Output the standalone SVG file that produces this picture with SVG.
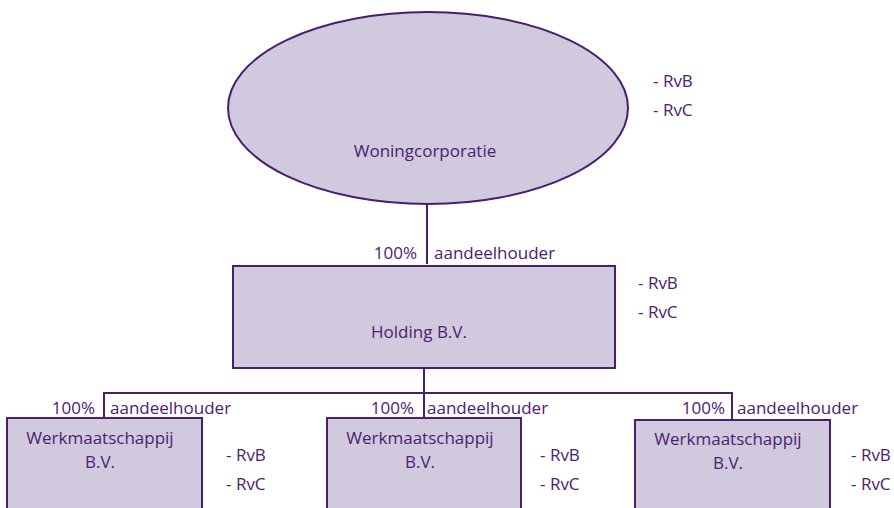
<svg xmlns="http://www.w3.org/2000/svg" width="894" height="508" viewBox="0 0 894 508">
<style>
.n{fill:#d1c9de;stroke:#4a1e6e;stroke-width:2}
.c{fill:none;stroke:#4a1e6e;stroke-width:2}
text{font-family:"Open Sans","Noto Sans",sans-serif;font-size:17px;fill:#4b2170}
.m{text-anchor:middle}
.e{text-anchor:end}
</style>
<rect width="894" height="508" fill="#fff"/>
<g id="connectors">
<line class="c" x1="427" y1="203" x2="427" y2="264"/>
<line class="c" x1="424" y1="368" x2="424" y2="393"/>
<polyline class="c" points="104,418 104,393 732,393 732,420"/>
<line class="c" x1="424" y1="393" x2="424" y2="418"/>
<text x="417" y="259" class="e">100%</text>
<text x="434" y="259">aandeelhouder</text>
<text x="95" y="414" class="e">100%</text>
<text x="110" y="414">aandeelhouder</text>
<text x="414" y="414" class="e">100%</text>
<text x="427" y="414">aandeelhouder</text>
<text x="725" y="414" class="e">100%</text>
<text x="737" y="414">aandeelhouder</text>
</g>
<g id="woningcorporatie">
<ellipse class="n" cx="428" cy="108" rx="200" ry="96"/>
<text x="425" y="157" class="m">Woningcorporatie</text>
<text x="653" y="87">- RvB</text>
<text x="653" y="116">- RvC</text>
</g>
<g id="holding">
<rect class="n" x="233" y="266" width="382" height="102"/>
<text x="419" y="338" class="m">Holding B.V.</text>
<text x="638" y="289">- RvB</text>
<text x="638" y="318">- RvC</text>
</g>
<g id="werk1">
<rect class="n" x="7" y="418" width="195" height="100"/>
<text x="100" y="444" class="m">Werkmaatschappij</text>
<text x="100" y="468" class="m">B.V.</text>
<text x="226" y="461">- RvB</text>
<text x="226" y="490">- RvC</text>
</g>
<g id="werk2">
<rect class="n" x="327" y="418" width="194" height="100"/>
<text x="420" y="444" class="m">Werkmaatschappij</text>
<text x="420" y="468" class="m">B.V.</text>
<text x="540" y="461">- RvB</text>
<text x="540" y="490">- RvC</text>
</g>
<g id="werk3">
<rect class="n" x="635" y="420" width="195" height="100"/>
<text x="728" y="445" class="m">Werkmaatschappij</text>
<text x="728" y="469" class="m">B.V.</text>
<text x="851" y="461">- RvB</text>
<text x="851" y="490">- RvC</text>
</g>
</svg>
